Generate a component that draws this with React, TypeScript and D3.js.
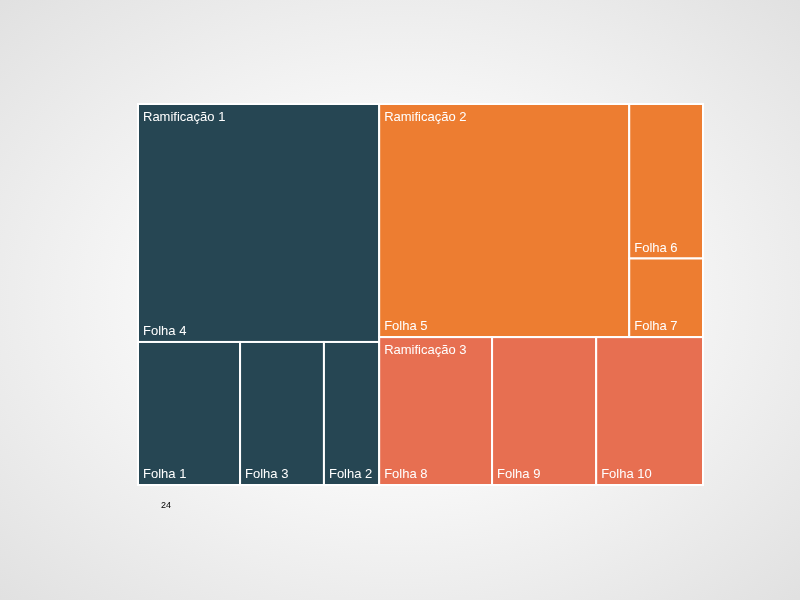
import React from "react";
import * as d3 from "d3";

const branches = ["Ramificação 1", "Ramificação 2", "Ramificação 3"];
const branchColors = ["#264653", "#ED7D31", "#E76F51"];
const leafNames = [
  ["Folha 4", "Folha 1", "Folha 3", "Folha 2"],
  ["Folha 5", "Folha 6", "Folha 7"],
  ["Folha 8", "Folha 9", "Folha 10"],
];
const leafValues = [
  [57.4, 14.6, 12.0, 7.9],
  [58.3, 11.4, 5.8],
  [16.7, 15.4, 15.8],
];
const pageLabel = "24";

const W = 800;
const H = 600;
const X0 = 138;
const Y0 = 104;
const TW = 565;
const TH = 381;

export default function App() {
  const data = {
    name: "root",
    children: branches.map((b, i) => ({
      name: b,
      idx: i,
      children: leafNames[i].map((n, j) => ({ name: n, value: leafValues[i][j], idx: i })),
    })),
  };
  const root = d3.hierarchy<any>(data).sum((d: any) => d.value || 0);
  const tile = (node: any, x0: number, y0: number, x1: number, y1: number) => {
    const t = node.depth === 0 ? d3.treemapSquarify.ratio(1) : d3.treemapSquarify.ratio(1.35);
    t(node, x0, y0, x1, y1);
  };
  d3.treemap<any>().size([TW, TH]).tile(tile as any).round(false)(root);
  const leaves = root.leaves() as any[];
  const branchNodes = (root.children || []) as any[];

  return (
    <svg
      width={W}
      height={H}
      style={{ position: "fixed", left: 0, top: 0 }}
      fontFamily="'Liberation Sans', Arial, Helvetica, sans-serif"
    >
      <defs>
        <radialGradient id="bg" cx="50%" cy="50%" r="72%">
          <stop offset="0%" stopColor="#ffffff" />
          <stop offset="45%" stopColor="#f6f6f6" />
          <stop offset="100%" stopColor="#e0e0e0" />
        </radialGradient>
      </defs>
      <rect x={0} y={0} width={W} height={H} fill="url(#bg)" />
      <g transform={`translate(${X0},${Y0})`}>
        {leaves.map((l, i) => (
          <rect
            key={i}
            x={l.x0}
            y={l.y0}
            width={l.x1 - l.x0}
            height={l.y1 - l.y0}
            fill={branchColors[l.data.idx]}
            stroke="#ffffff"
            strokeWidth={2}
          />
        ))}
        {leaves.map((l, i) => (
          <text
            key={"t" + i}
            x={l.x0 + 5}
            y={l.y1 - 7}
            fill="#ffffff"
            fontSize={13}
          >
            {l.data.name}
          </text>
        ))}
        {branchNodes.map((b, i) => (
          <text key={"b" + i} x={b.x0 + 5} y={b.y0 + 17} fill="#ffffff" fontSize={13}>
            {b.data.name}
          </text>
        ))}
      </g>
      <text x={161} y={508} fontSize={9} fill="#000000">
        {pageLabel}
      </text>
    </svg>
  );
}
